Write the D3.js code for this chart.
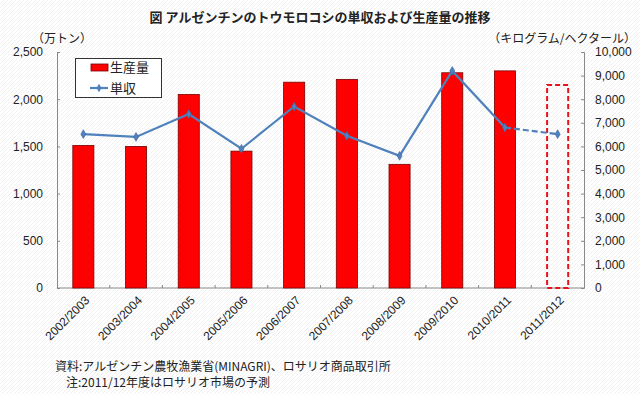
<!DOCTYPE html>
<meta charset="utf-8">

<body style="margin:0">
  <style>
    text {
      font-family: "Noto Sans CJK JP", sans-serif;
      fill: #222;
    }
  </style>
  <div id="box"></div>
  <script src="https://d3js.org/d3.v7.min.js"></script>
  <script>
    // seasons, production (万トン) and yield (kg/ha)
    var seasons = ["2002/2003", "2003/2004", "2004/2005", "2005/2006", "2006/2007",
      "2007/2008", "2008/2009", "2009/2010", "2010/2011", "2011/2012"];
    var production = [1510, 1500, 2050, 1450, 2180, 2210, 1310, 2280, 2300, 2150];
    var yieldKg = [6520, 6400, 7370, 5900, 7690, 6450, 5600, 9200, 6800, 6520];
    var leftTicks = [0, 500, 1000, 1500, 2000, 2500];
    var rightTicks = [0, 1000, 2000, 3000, 4000, 5000, 6000, 7000, 8000, 9000, 10000];
    var forecast = "2011/2012";

    var W = 640, H = 395;
    // plot area edges
    var pLeft = 57, pRight = 584, pTop = 52, pBottom = 288;

    var svg = d3.select("#box").append("svg")
      .attr("width", W).attr("height", H);

    // faint diagonal hatch background
    var defs = svg.append("defs");
    var pat = defs.append("pattern").attr("id", "hatch")
      .attr("patternUnits", "userSpaceOnUse")
      .attr("width", 4).attr("height", 4);
    pat.append("rect").attr("width", 4).attr("height", 4).attr("fill", "#fff");
    pat.append("path").attr("d", "M0,4 L4,0").attr("stroke", "#f1f1f1").attr("stroke-width", 1);
    svg.append("rect").attr("width", W).attr("height", H).attr("fill", "url(#hatch)");

    var x = d3.scaleBand().domain(seasons).range([pLeft, pRight]).paddingInner(0.6).paddingOuter(0.3);
    var yL = d3.scaleLinear().domain([0, 2500]).range([pBottom, pTop]);
    var yR = d3.scaleLinear().domain([0, 10000]).range([pBottom, pTop]);

    // title
    svg.append("text").attr("x", 320).attr("y", 22).attr("text-anchor", "middle")
      .style("font-size", "13px").style("font-weight", "bold")
      .text("図 アルゼンチンのトウモロコシの単収および生産量の推移");
    svg.append("text").attr("x", 32).attr("y", 43).style("font-size", "12px").text("（万トン）");
    svg.append("text").attr("x", 636).attr("y", 43).attr("text-anchor", "end")
      .style("font-size", "12px").text("（キログラム/ヘクタール）");

    // axes
    var axL = svg.append("g").attr("transform", "translate(" + pLeft + ",0)")
      .call(d3.axisLeft(yL).tickValues(leftTicks).tickSize(-3).tickPadding(14).tickFormat(d3.format(",")));
    var axR = svg.append("g").attr("transform", "translate(" + pRight + ",0)")
      .call(d3.axisRight(yR).tickValues(rightTicks).tickSize(-3).tickPadding(11).tickFormat(d3.format(",")));
    [axL, axR].forEach(function(a) {
      a.select(".domain").attr("stroke", "#888");
      a.selectAll(".tick line").attr("stroke", "#888");
      a.selectAll("text").style("font-size", "12px").style("font-family", "\"Liberation Sans\", sans-serif").attr("fill", "#333");
    });

    // bottom axis with ticks at category boundaries
    svg.append("line").attr("x1", pLeft).attr("x2", pRight).attr("y1", pBottom).attr("y2", pBottom)
      .attr("stroke", "#888");
    var step = x.step();
    svg.selectAll("xtick").data(d3.range(1, seasons.length)).enter().append("line")
      .attr("x1", function(i) { return pLeft + i * step; })
      .attr("x2", function(i) { return pLeft + i * step; })
      .attr("y1", pBottom).attr("y2", pBottom - 3).attr("stroke", "#888");

    svg.selectAll("xlab").data(seasons).enter().append("text")
      .attr("transform", function(d) {
        return "translate(" + (x(d) + x.bandwidth() / 2 + 4) + "," + (pBottom + 10) + ") rotate(-45)";
      })
      .attr("text-anchor", "end").attr("dy", "0.35em")
      .style("font-size", "12px").style("font-family", "\"Liberation Sans\", sans-serif")
      .text(function(d) { return d; });

    // bars
    svg.selectAll("bar").data(seasons).enter().append("rect")
      .attr("x", function(d) { return x(d); })
      .attr("y", function(d, i) { return yL(production[i]); })
      .attr("width", x.bandwidth())
      .attr("height", function(d, i) { return pBottom - yL(production[i]); })
      .attr("fill", function(d) { return d === forecast ? "none" : "#ff0000"; })
      .attr("stroke", function(d) { return d === forecast ? "#e8101a" : "#7a0000"; })
      .attr("stroke-width", function(d) { return d === forecast ? 2 : 0.8; })
      .attr("stroke-dasharray", function(d) { return d === forecast ? "5,3" : null; });

    // yield line
    var pts = seasons.map(function(d, i) {
      return [x(d) + x.bandwidth() / 2, yR(yieldKg[i])];
    });
    var line = d3.line();
    var n = seasons.length;
    svg.append("path").attr("d", line(pts.slice(0, n - 1)))
      .attr("fill", "none").attr("stroke", "#4f81bd").attr("stroke-width", 2.2);
    svg.append("path").attr("d", line(pts.slice(n - 2)))
      .attr("fill", "none").attr("stroke", "#4f81bd").attr("stroke-width", 2.2)
      .attr("stroke-dasharray", "6,3");
    svg.selectAll("mark").data(pts).enter().append("path")
      .attr("transform", function(p) { return "translate(" + p[0] + "," + p[1] + ")"; })
      .attr("d", d3.symbol().type(d3.symbolDiamond).size(22))
      .attr("fill", "#4f81bd").attr("stroke", "#3a64a0").attr("stroke-width", 0.6);

    // legend
    var lg = svg.append("g");
    lg.append("rect").attr("x", 75.5).attr("y", 58.5).attr("width", 86).attr("height", 39)
      .attr("fill", "#fff").attr("stroke", "#333").attr("stroke-width", 1);
    lg.append("rect").attr("x", 91).attr("y", 64).attr("width", 17).attr("height", 7)
      .attr("fill", "#ff0000").attr("stroke", "#7a0000").attr("stroke-width", 0.8);
    lg.append("text").attr("x", 110).attr("y", 72).style("font-size", "13px").text("生産量");
    lg.append("line").attr("x1", 90).attr("x2", 108).attr("y1", 88).attr("y2", 88)
      .attr("stroke", "#4f81bd").attr("stroke-width", 2.2);
    lg.append("path").attr("transform", "translate(99,88)")
      .attr("d", d3.symbol().type(d3.symbolDiamond).size(22)).attr("fill", "#4f81bd");
    lg.append("text").attr("x", 110).attr("y", 93).style("font-size", "13px").text("単収");

    // notes
    svg.append("text").attr("x", 55).attr("y", 371).style("font-size", "12px")
      .text("資料:アルゼンチン農牧漁業省(MINAGRI)、ロサリオ商品取引所");
    svg.append("text").attr("x", 66).attr("y", 387).style("font-size", "12px")
      .text("注:2011/12年度はロサリオ市場の予測");
  </script>
</body>
